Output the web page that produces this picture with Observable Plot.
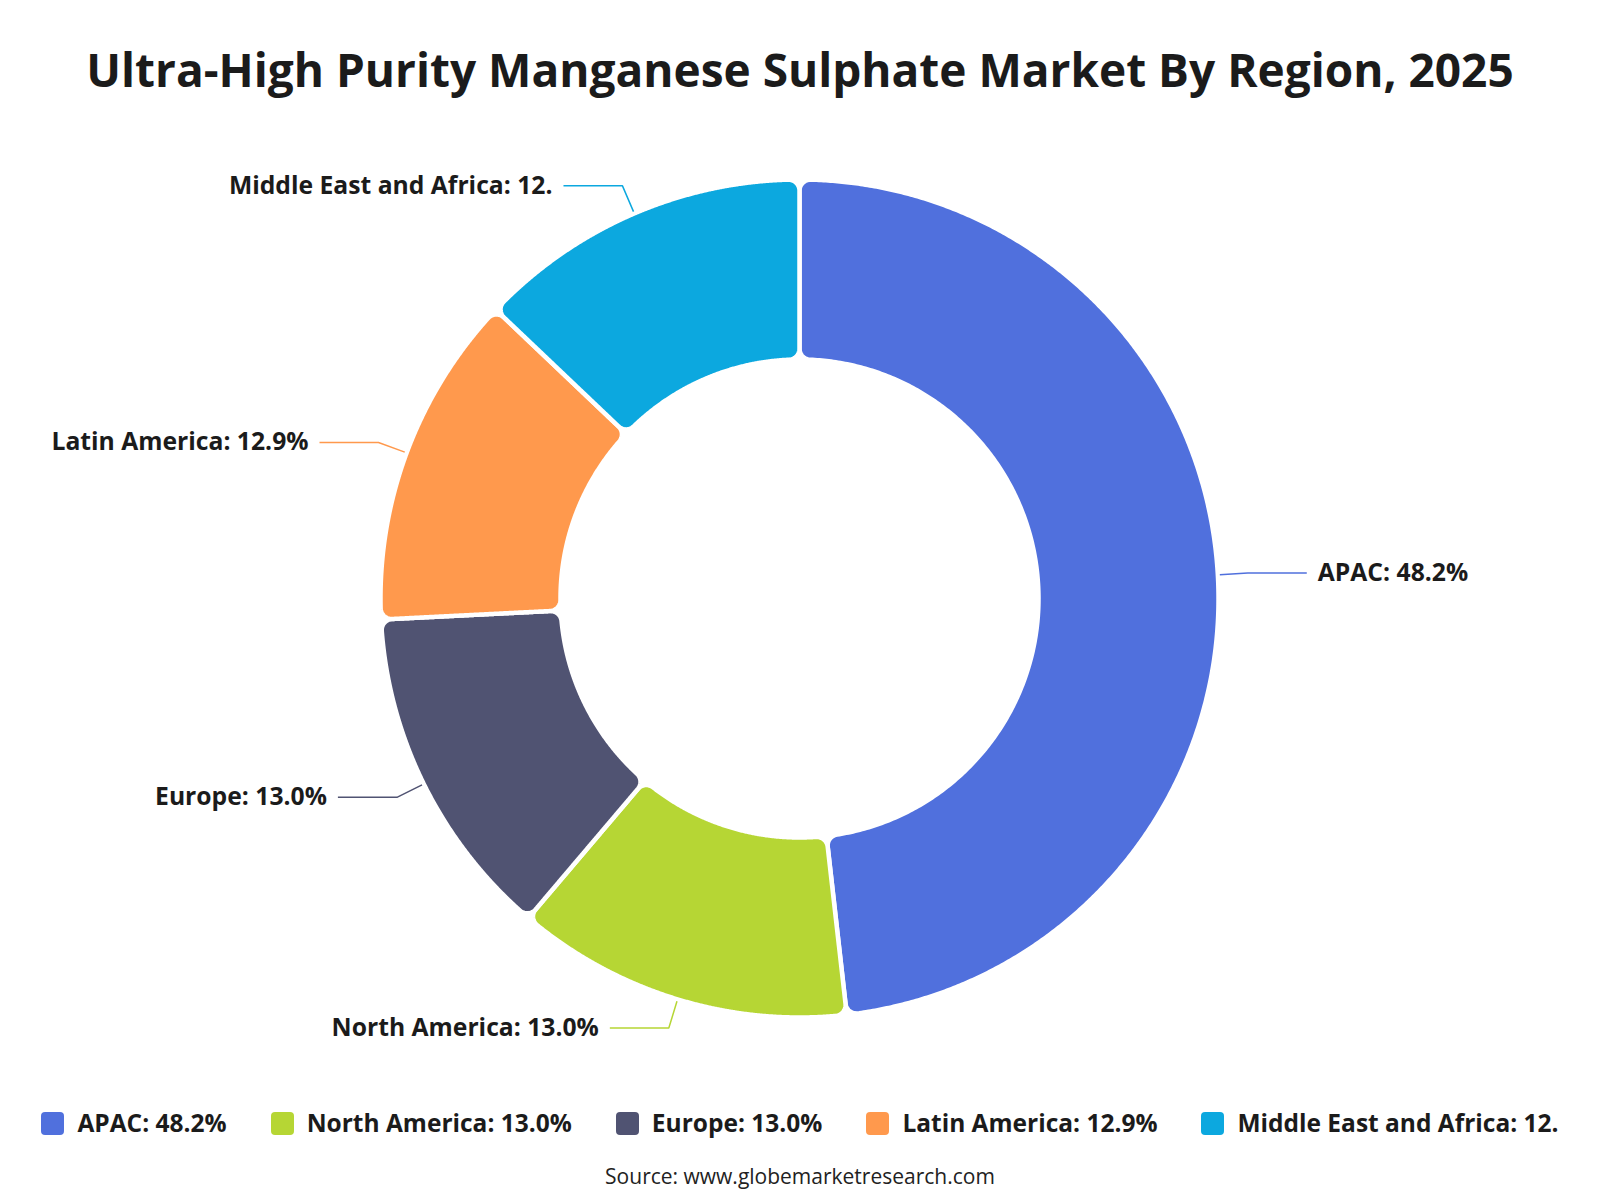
<!DOCTYPE html>
<html><head><meta charset="utf-8">
<script src="https://cdn.jsdelivr.net/npm/d3@7"></script>
<script src="https://cdn.jsdelivr.net/npm/@observablehq/plot@0.6"></script>
<style>
body{margin:0;background:#fff;font-family:"Open Sans","Noto Sans",sans-serif;color:#1b1b1b}
#wrap{position:relative;width:1600px;height:1200px;overflow:hidden;background:#fff}
#title{position:absolute;left:0;width:1600px;top:40px;text-align:center;font-size:46px;font-weight:700;line-height:58px;color:#1b1b1b}
#chart{position:absolute;left:0;top:120px}
#legend{position:absolute;left:0;width:1600px;top:1108px;display:flex;justify-content:center;gap:44px;font-size:24.5px;font-weight:700;line-height:30px}
.item{display:flex;align-items:center;gap:13px}
.sw{width:23px;height:23px;border-radius:4px}
#source{position:absolute;left:0;width:1600px;top:1162px;text-align:center;font-size:21px;color:#222}
</style></head>
<body>
<div id="wrap">
  <div id="title">Ultra-High Purity Manganese Sulphate Market By Region, 2025</div>
  <div id="chart"></div>
  <div id="legend"></div>
  <div id="source">Source: www.globemarketresearch.com</div>
</div>
<script>
// ---- data ----
const regions = ["APAC", "North America", "Europe", "Latin America", "Middle East and Africa"];
const shares = [48.2, 13.0, 13.0, 12.9, 12.9];
const labelTexts = ["APAC: 48.2%", "North America: 13.0%", "Europe: 13.0%", "Latin America: 12.9%", "Middle East and Africa: 12."];
const palette = ["#5070dd", "#b6d634", "#505372", "#ff994d", "#0ca8df"];

// ---- geometry (derived from data) ----
const rows = regions.map((r, i) => ({name: r, share: shares[i], label: labelTexts[i]}));
const arcs = d3.pie().sort(null).value(d => d.share)(rows);
const R_IN = 239, R_OUT = 419;
const arcGen = d3.arc().innerRadius(R_IN).outerRadius(R_OUT).cornerRadius(11);

const ns = "http://www.w3.org/2000/svg";
const tmp = document.createElementNS(ns, "svg");
tmp.setAttribute("width", "0"); tmp.setAttribute("height", "0");
tmp.style.position = "absolute";
document.body.appendChild(tmp);
const pathEl = document.createElementNS(ns, "path");
tmp.appendChild(pathEl);
const slicePts = [];
arcs.forEach(a => {
  pathEl.setAttribute("d", arcGen(a));
  const L = pathEl.getTotalLength();
  const n = 1000;
  for (let i = 0; i < n; i++) {
    const p = pathEl.getPointAtLength(L * i / n);
    slicePts.push({name: a.data.name, x: p.x, y: p.y});
  }
});
tmp.remove();

const leaderPts = [];
const labelRows = [];
arcs.forEach(a => {
  const m = (a.startAngle + a.endAngle) / 2;
  const s = Math.sin(m), c = -Math.cos(m);
  const side = s >= 0 ? 1 : -1;
  const p0 = {x: s * (R_OUT + 2), y: c * (R_OUT + 2)};
  const p1 = {x: s * 449, y: c * 449};
  const p2 = {x: p1.x + side * 59, y: p1.y};
  [p0, p1, p2].forEach(p => leaderPts.push({name: a.data.name, x: p.x, y: p.y}));
  labelRows.push({name: a.data.name, label: a.data.label, x: p2.x, y: p2.y, side});
});

const chart = Plot.plot({
  width: 1600,
  height: 940,
  margin: 0,
  style: {fontFamily: '"Open Sans","Noto Sans",sans-serif', background: "white"},
  x: {domain: [-799, 801], range: [0, 1600], axis: null},
  y: {domain: [-478, 462], range: [0, 940], axis: null},
  color: {domain: regions, range: palette},
  marks: [
    Plot.line(slicePts, {x: "x", y: "y", z: "name", fill: "name", stroke: "white", strokeWidth: 4.5, curve: "linear-closed"}),
    Plot.line(leaderPts, {x: "x", y: "y", z: "name", stroke: "name", strokeWidth: 1.5, strokeLinejoin: "miter", strokeLinecap: "butt"}),
    Plot.text(labelRows.filter(d => d.side > 0), {x: "x", y: "y", text: "label", textAnchor: "start", dx: 11, fontSize: 24.7, fontWeight: "bold", fill: "#1b1b1b"}),
    Plot.text(labelRows.filter(d => d.side < 0), {x: "x", y: "y", text: "label", textAnchor: "end", dx: -11, fontSize: 24.7, fontWeight: "bold", fill: "#1b1b1b"})
  ]
});
document.getElementById("chart").appendChild(chart);

// ---- legend ----
const leg = document.getElementById("legend");
rows.forEach((r, i) => {
  const it = document.createElement("div");
  it.className = "item";
  const sw = document.createElement("div");
  sw.className = "sw";
  sw.style.background = chart.scale("color").apply(r.name);
  const tx = document.createElement("span");
  tx.textContent = r.label;
  it.appendChild(sw); it.appendChild(tx);
  leg.appendChild(it);
});
</script>
</body></html>
